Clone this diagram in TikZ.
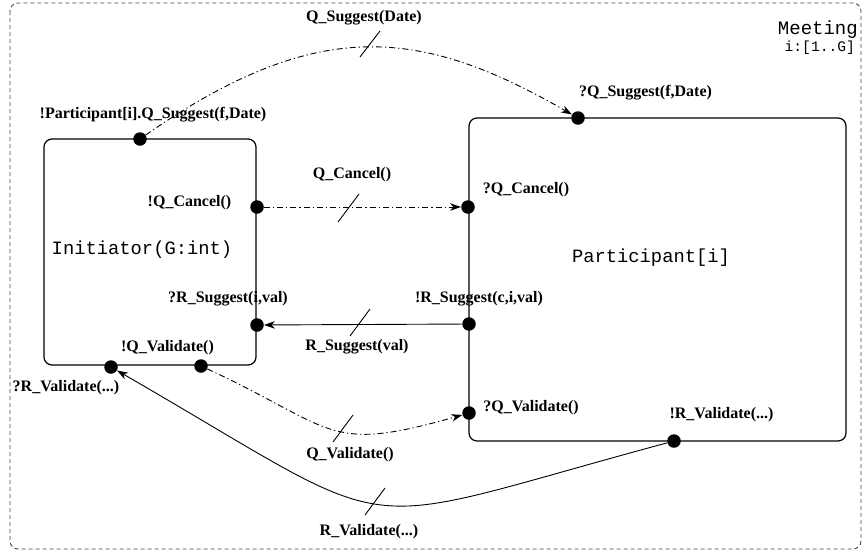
\documentclass[tikz,border=0pt]{standalone}
\usepackage{fontspec}
\setmainfont{Liberation Serif}
\setmonofont{Liberation Mono}
\usetikzlibrary{arrows.meta}
\begin{document}
\begin{tikzpicture}[x=1pt,y=-1pt,
  lbl/.style={font=\bfseries\fontsize{16}{18}\selectfont, inner sep=0pt},
  dot/.style={circle, fill=black, inner sep=0pt, minimum size=13.5pt},
  box/.style={draw, line width=1.2pt, rounded corners=8pt},
  conn/.style={line width=0.9pt},
  dashdot/.style={dash pattern=on 6pt off 3pt on 1.2pt off 3pt},
  tip/.style={-{Stealth[length=11pt,width=7.5pt,inset=3.5pt]}},
  tick/.style={line width=0.9pt}]
\useasboundingbox (0,0) rectangle (864,557);
% outer frame
\draw[gray!55!black, line width=0.9pt, dash pattern=on 4pt off 3pt, rounded corners=8pt] (10,3) rectangle (861,549);
\node[font=\ttfamily\fontsize{19}{21}\selectfont, anchor=east, inner sep=0pt] (meet) at (858,30) {Meeting};
\node[font=\ttfamily\fontsize{14.6}{16}\selectfont, anchor=east, inner sep=0pt] (range) at (855,48) {i:[1..G]};
% boxes
\draw[box] (44,139) rectangle (256,365);
\draw[box] (469,118) rectangle (846,441);
\node[font=\ttfamily\fontsize{18.8}{21}\selectfont, inner sep=0pt] (init) at (142,250) {Initiator(G:int)};
\node[font=\ttfamily\fontsize{18.8}{21}\selectfont, inner sep=0pt] (part) at (651,258) {Participant[i]};
% dots
\node[dot] (iqs) at (140,139) {};
\node[dot] (pqs) at (578,118) {};
\node[dot] (iqc) at (257,207) {};
\node[dot] (pqc) at (468,207) {};
\node[dot] (irs) at (257,325) {};
\node[dot] (prs) at (469,324) {};
\node[dot] (iqv) at (201,366) {};
\node[dot] (irv) at (111,367) {};
\node[dot] (pqv) at (469,413) {};
\node[dot] (prv) at (674,441) {};
% labels
\node[lbl] at (364,18) {Q\_Suggest(Date)};
\node[lbl] at (153,115) {!Participant[i].Q\_Suggest(f,Date)};
\node[lbl] at (645.5,93) {?Q\_Suggest(f,Date)};
\node[lbl] at (352,175) {Q\_Cancel()};
\node[lbl] at (189.5,203) {!Q\_Cancel()};
\node[lbl] at (526,190) {?Q\_Cancel()};
\node[lbl] at (228,299) {?R\_Suggest(i,val)};
\node[lbl] at (479,299) {!R\_Suggest(c,i,val)};
\node[lbl] at (357,347) {R\_Suggest(val)};
\node[lbl] at (167.5,348) {!Q\_Validate()};
\node[lbl] at (66,388) {?R\_Validate(...)};
\node[lbl] at (531,408) {?Q\_Validate()};
\node[lbl] at (350,455) {Q\_Validate()};
\node[lbl] at (721.5,415) {!R\_Validate(...)};
\node[lbl] at (369,532) {R\_Validate(...)};
% connectors
\draw[conn, dashdot, tip] (iqs) .. controls (318,15) and (422,28) .. (pqs);
\draw[conn, dashdot, tip] (iqc) -- (pqc);
\draw[conn, tip] (prs) -- (irs);
\draw[conn, dashdot, tip] (iqv) .. controls (337,429) and (325,454) .. (pqv);
\draw[conn, tip] (prv) .. controls (336,532) and (414,542) .. (irv);
% ticks
\draw[tick] (380,31) -- (360,57);
\draw[tick] (359,194) -- (338,222);
\draw[tick] (370,309) -- (350,336);
\draw[tick] (353,415) -- (333,442);
\draw[tick] (385,488) -- (365,515);
\end{tikzpicture}
\end{document}
